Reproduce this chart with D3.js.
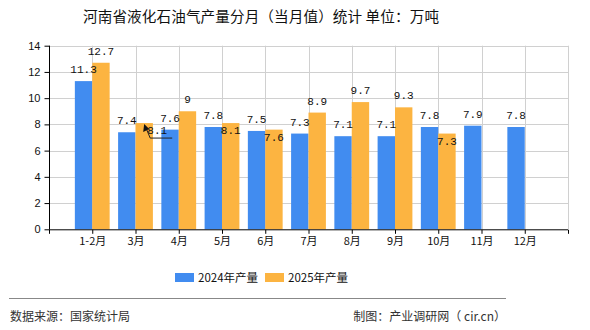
<!DOCTYPE html>
<html><head><meta charset="utf-8">
<script src="https://cdn.jsdelivr.net/npm/d3@7/dist/d3.min.js"></script>
<style>body{margin:0;background:#fff}svg{display:block}</style>
</head><body><svg id="c" width="590" height="330"></svg>
<script>
const categories = ["1-2月","3月","4月","5月","6月","7月","8月","9月","10月","11月","12月"];
const values2024 = [11.3,7.4,7.6,7.8,7.5,7.3,7.1,7.1,7.8,7.9,7.8];
const values2025 = [12.7,8.1,9,8.1,7.6,8.9,9.7,9.3,7.3];
const seriesNames = ["2024年产量","2025年产量"];
const yTicks = [0,2,4,6,8,10,12,14];
const calloutCats = ["3月"];

const colors = ["#418CF0","#FCB441"];
const svg = d3.select("#c");
const m = {l:49, r:568, t:45.7, b:229.3};
const fontCN = "'Noto Sans CJK SC','Noto Sans',sans-serif";
const fontNum = "'Liberation Mono','DejaVu Sans Mono',monospace";

const x = d3.scalePoint().domain(["__s", ...categories, "__e"]).range([m.l, m.r]);
const y = d3.scaleLinear().domain([0,14]).range([m.b, m.t]);
const bw = 17.4;

// title
svg.append("text").attr("x",83).attr("y",22).attr("text-anchor","start")
  .attr("font-family",fontCN).attr("font-size",14.6).attr("fill","#111")
  .attr("textLength",356).attr("lengthAdjust","spacing")
  .text("河南省液化石油气产量分月（当月值）统计 单位：万吨");

// grid
const g = svg.append("g");
g.selectAll(".hg").data(yTicks.slice(1)).enter().append("line")
  .attr("x1",m.l).attr("x2",m.r).attr("y1",d=>Math.round(y(d))+0.5).attr("y2",d=>Math.round(y(d))+0.5)
  .attr("stroke","#d0d0d0").attr("stroke-width",1);
g.selectAll(".vg").data(x.domain().slice(1)).enter().append("line")
  .attr("x1",d=>Math.round(x(d))+0.5).attr("x2",d=>Math.round(x(d))+0.5).attr("y1",m.t).attr("y2",m.b)
  .attr("stroke","#d0d0d0").attr("stroke-width",1);

// bars
const data = [values2024, values2025];
data.forEach((vals,si)=>{
  svg.append("g").selectAll("rect").data(vals).enter().append("rect")
    .attr("x",(d,i)=>x(categories[i]) + (si===0 ? -bw : 0))
    .attr("width",bw)
    .attr("y",d=>y(d)).attr("height",d=>y(0)-y(d))
    .attr("fill",colors[si]);
});

// labels
const lab = svg.append("g").attr("font-family",fontNum).attr("font-size",11).attr("fill","#111").attr("text-anchor","middle");
values2024.forEach((v,i)=>{
  lab.append("text").attr("x",x(categories[i])-bw/2).attr("y",y(v)-8).text(v);
});
values2025.forEach((v,i)=>{
  const cx = x(categories[i])+bw/2;
  const inside = Math.abs(v - values2024[i]) < 0.8;
  if (calloutCats.includes(categories[i])) {
    const lx = cx + 13;
    lab.append("text").attr("x",lx).attr("y",y(v)+11).text(v);
    const ly = y(v)+15;
    svg.append("path").attr("d",`M${lx+15},${ly} H${lx-7} L${cx+1},${y(v)+3}`)
      .attr("fill","none").attr("stroke","#222").attr("stroke-width",1);
    svg.append("path").attr("d",`M${cx},${y(v)+1} l-1,8 l6,-3 z`).attr("fill","#111");
  } else if (inside) {
    lab.append("text").attr("x",cx).attr("y",y(v)+11).text(v);
  } else {
    lab.append("text").attr("x",cx).attr("y",y(v)-8).text(v);
  }
});

// axes
const ya = svg.append("g").attr("transform",`translate(${m.l+0.5},0)`)
  .call(d3.axisLeft(y).tickValues(yTicks).tickSize(5).tickPadding(4));
ya.select(".domain").attr("stroke","#000").attr("d",`M-0,${m.t}V${m.b}`);
ya.selectAll(".tick line").attr("stroke","#000");
ya.selectAll("text").attr("font-family","'Liberation Sans','DejaVu Sans',sans-serif").attr("font-size",11).attr("fill","#111");

const xa = svg.append("g").attr("transform",`translate(0,${m.b+0.5})`)
  .call(d3.axisBottom(x).tickSize(4).tickPadding(3).tickFormat(d=>d.startsWith("__")?"":d));
xa.select(".domain").attr("stroke","#000").attr("d",`M${m.l},0H${m.r}`);
xa.selectAll(".tick line").attr("stroke","#000");
xa.selectAll("text").attr("font-family",fontCN).attr("font-size",11).attr("fill","#111");

// legend
const lg = svg.append("g").attr("font-family",fontCN).attr("font-size",11.5).attr("fill","#111");
[175,265].forEach((lx,i)=>{
  lg.append("rect").attr("x",lx).attr("y",273).attr("width",19).attr("height",9).attr("fill",colors[i]);
  lg.append("text").attr("x",lx+23).attr("y",281.5).text(seriesNames[i]);
});

// footer
svg.append("line").attr("x1",9).attr("x2",506).attr("y1",298.5).attr("y2",298.5).attr("stroke","#888").attr("stroke-width",1.2);
svg.append("text").attr("x",10).attr("y",321).attr("font-family",fontCN).attr("font-size",12).attr("fill","#333").text("数据来源：国家统计局");
svg.append("text").attr("x",506).attr("y",321).attr("text-anchor","end").attr("font-family",fontCN).attr("font-size",12).attr("fill","#333").text("制图：产业调研网（ cir.cn）");
</script></body></html>
